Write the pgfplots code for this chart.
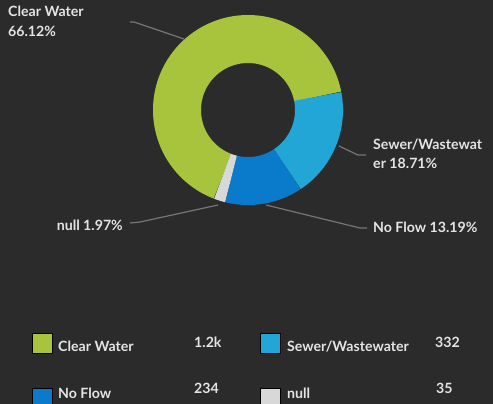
\documentclass[border=0pt]{standalone}
\usepackage{pgfplots}
\pgfplotsset{compat=1.18}
\usepackage{fontspec}
\setmainfont{Lato}
\definecolor{bg}{HTML}{2B2B2B}
\definecolor{cgreen}{HTML}{A8C43C}
\definecolor{clblue}{HTML}{22A6D6}
\definecolor{cblue}{HTML}{0A7ACB}
\definecolor{cgray}{HTML}{D8D8D8}
\definecolor{txt}{HTML}{E4E4E4}
\definecolor{lead}{HTML}{767676}
\begin{document}
\begin{tikzpicture}[lab/.style={font=\fontsize{14.2}{16}\selectfont\bfseries, text=txt, inner sep=0pt}]
% counts per category
\pgfmathsetmacro{\vA}{1173}% Clear Water
\pgfmathsetmacro{\vB}{332}% Sewer/Wastewater
\pgfmathsetmacro{\vC}{234}% No Flow
\pgfmathsetmacro{\vD}{35}% null
\pgfmathsetmacro{\tot}{\vA+\vB+\vC+\vD}
\pgfmathsetmacro{\aA}{249}
\pgfmathsetmacro{\aB}{\aA-360*(\vA/\tot)}
\pgfmathsetmacro{\aC}{\aB-360*(\vB/\tot)}
\pgfmathsetmacro{\aD}{\aC-360*(\vC/\tot)}
\pgfmathsetmacro{\aE}{\aD-360*(\vD/\tot)}
\def\cx{248}\def\cy{110}\def\rmid{71}
\begin{axis}[
  scale only axis, width=493bp, height=404bp,
  xmin=0, xmax=493, ymin=0, ymax=404, y dir=reverse,
  axis line style={draw=none}, xtick=\empty, ytick=\empty,
  axis background/.style={fill=bg},
  clip=true, clip marker paths=true,
]
% donut slices
\addplot[draw=cgreen, line width=48bp, line cap=butt, domain=\aB:\aA, samples=120, variable=\t, no markers] ({\cx+\rmid*cos(\t)},{\cy-\rmid*sin(\t)});
\addplot[draw=clblue, line width=48bp, line cap=butt, domain=\aC:\aB, samples=60, variable=\t, no markers] ({\cx+\rmid*cos(\t)},{\cy-\rmid*sin(\t)});
\addplot[draw=cblue, line width=48bp, line cap=butt, domain=\aD:\aC, samples=60, variable=\t, no markers] ({\cx+\rmid*cos(\t)},{\cy-\rmid*sin(\t)});
\addplot[draw=cgray, line width=48bp, line cap=butt, domain=\aE:\aD, samples=20, variable=\t, no markers] ({\cx+\rmid*cos(\t)},{\cy-\rmid*sin(\t)});
% leader lines
\addplot[lead, line width=1.2bp, no markers] coordinates {(130,22) (134,22) (184,39)};
\addplot[lead, line width=1.2bp, no markers] coordinates {(339,146) (358,155) (366,155)};
\addplot[lead, line width=1.2bp, no markers] coordinates {(266,205) (360,228) (367,228)};
\addplot[lead, line width=1.2bp, no markers] coordinates {(130,223) (140,222) (218,205)};
% legend swatches
\addplot[draw=none, only marks, mark=square*, mark size=10bp, mark options={draw=none, fill=cgreen, rounded corners=3bp}] coordinates {(42,343)};
\addplot[draw=none, only marks, mark=square*, mark size=10bp, mark options={draw=none, fill=clblue, rounded corners=3bp}] coordinates {(270,343)};
\addplot[draw=none, only marks, mark=square*, mark size=10bp, mark options={draw=none, fill=cblue, rounded corners=3bp}] coordinates {(42,398)};
\addplot[draw=none, only marks, mark=square*, mark size=10bp, mark options={draw=none, fill=cgray, rounded corners=3bp}] coordinates {(270,398)};
% labels
\node[lab, anchor=base west] at (axis cs:8,17) {Clear Water};
\node[lab, anchor=base west] at (axis cs:8,36) {66.12\%};
\node[lab, anchor=base west] at (axis cs:373,149) {Sewer/Wastewat};
\node[lab, anchor=base west] at (axis cs:373,168) {er 18.71\%};
\node[lab, anchor=base west] at (axis cs:373,232) {No Flow 13.19\%};
\node[lab, anchor=base east] at (axis cs:123,230) {null 1.97\%};
% legend texts
\node[lab, anchor=base west] at (axis cs:58,351) {Clear Water};
\node[lab, anchor=base west] at (axis cs:194,347) {1.2k};
\node[lab, anchor=base west] at (axis cs:287,351) {Sewer/Wastewater};
\node[lab, anchor=base west] at (axis cs:435,347) {332};
\node[lab, anchor=base west] at (axis cs:58,398) {No Flow};
\node[lab, anchor=base west] at (axis cs:194,393) {234};
\node[lab, anchor=base west] at (axis cs:287,398) {null};
\node[lab, anchor=base west] at (axis cs:436,393) {35};
\end{axis}
\pgfresetboundingbox
\useasboundingbox (current axis.south west) rectangle (current axis.north east);
\end{tikzpicture}
\end{document}
